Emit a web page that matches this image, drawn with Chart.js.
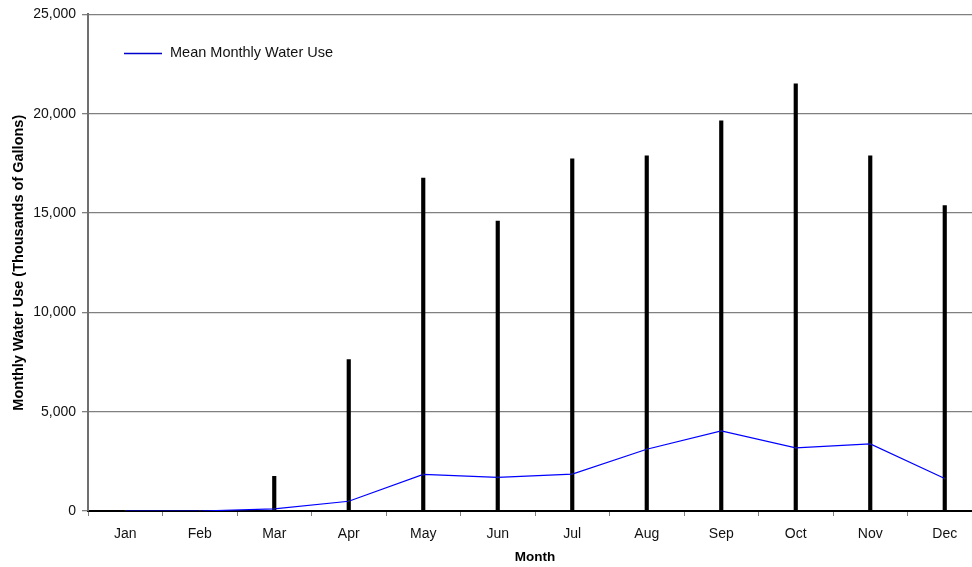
<!DOCTYPE html>
<html>
<head>
<meta charset="utf-8">
<script src="https://cdn.jsdelivr.net/npm/chart.js@4/dist/chart.umd.min.js"></script>
<style>
html,body{margin:0;padding:0;background:#fff;overflow:hidden;}
#wrap{width:986px;height:567px;}
</style>
</head>
<body>
<div id="wrap"><canvas id="c" width="986" height="567"></canvas></div>
<script>
const months = ["Jan","Feb","Mar","Apr","May","Jun","Jul","Aug","Sep","Oct","Nov","Dec"];
const maxUse = [0, 0, 1750, 7620, 16760, 14600, 17730, 17880, 19640, 21500, 17880, 15370];
const meanUse = [0, 0, 110, 490, 1840, 1690, 1860, 3110, 4030, 3180, 3380, 1640];
const yTicks = [0, 5000, 10000, 15000, 20000, 25000];
const meanLabel = "Mean Monthly Water Use";

const FONT = "'Liberation Sans', Arial, sans-serif";

const legendPlugin = {
  id: 'insideLegend',
  afterDraw(chart) {
    const ctx = chart.ctx;
    const ds = chart.data.datasets[1];
    ctx.save();
    ctx.strokeStyle = '#0000cc';
    ctx.lineWidth = 1.3;
    ctx.beginPath();
    ctx.moveTo(124, 53.5);
    ctx.lineTo(162, 53.5);
    ctx.stroke();
    ctx.fillStyle = '#111';
    ctx.font = "14.5px " + FONT;
    ctx.textBaseline = 'middle';
    ctx.textAlign = 'left';
    ctx.fillText(ds.label, 170, 53);
    ctx.restore();
  }
};

new Chart(document.getElementById('c'), {
  type: 'bar',
  data: {
    labels: months,
    datasets: [
      {
        type: 'bar',
        label: 'Maximum',
        data: maxUse,
        backgroundColor: '#000',
        borderWidth: 0,
        barThickness: 3.5,
        order: 2
      },
      {
        type: 'line',
        label: meanLabel,
        data: meanUse,
        borderColor: '#0000ff',
        borderWidth: 1.2,
        pointRadius: 1,
        pointBackgroundColor: '#222',
        pointBorderWidth: 0,
        tension: 0,
        order: 1
      }
    ]
  },
  options: {
    responsive: false,
    animation: false,
    devicePixelRatio: 1,
    layout: { padding: { top: 13, left: 0, right: 0, bottom: 0 } },
    plugins: {
      legend: { display: false },
      tooltip: { enabled: false }
    },
    scales: {
      x: {
        offset: true,
        grid: {
          offset: true,
          drawOnChartArea: false,
          drawTicks: true,
          tickLength: 5,
          color: '#808080'
        },
        border: { color: '#000', width: 2 },
        ticks: {
          color: '#111',
          font: { family: FONT, size: 14 },
          padding: 10,
          maxRotation: 0,
          autoSkip: false
        },
        title: {
          display: true,
          text: 'Month',
          color: '#000',
          font: { family: FONT, size: 13.5, weight: 'bold' },
          padding: { top: 2, bottom: 2 }
        },
        afterFit(scale) { scale.height = 56; }
      },
      y: {
        min: 0,
        max: 25000,
        afterBuildTicks(scale) { scale.ticks = yTicks.map(v => ({ value: v })); },
        grid: {
          color: '#808080',
          lineWidth: 1.3,
          drawTicks: true,
          tickLength: 6
        },
        border: { color: '#6f6f6f', width: 2 },
        ticks: {
          color: '#111',
          font: { family: FONT, size: 14 },
          padding: 6,
          callback: v => v.toLocaleString('en-US')
        },
        title: {
          display: true,
          text: 'Monthly Water Use (Thousands of Gallons)',
          color: '#000',
          font: { family: FONT, size: 14.5, weight: 'bold' },
          padding: { top: 10, bottom: 4 }
        },
        afterFit(scale) { scale.width = 88; }
      }
    }
  },
  plugins: [legendPlugin]
});
</script>
</body>
</html>
